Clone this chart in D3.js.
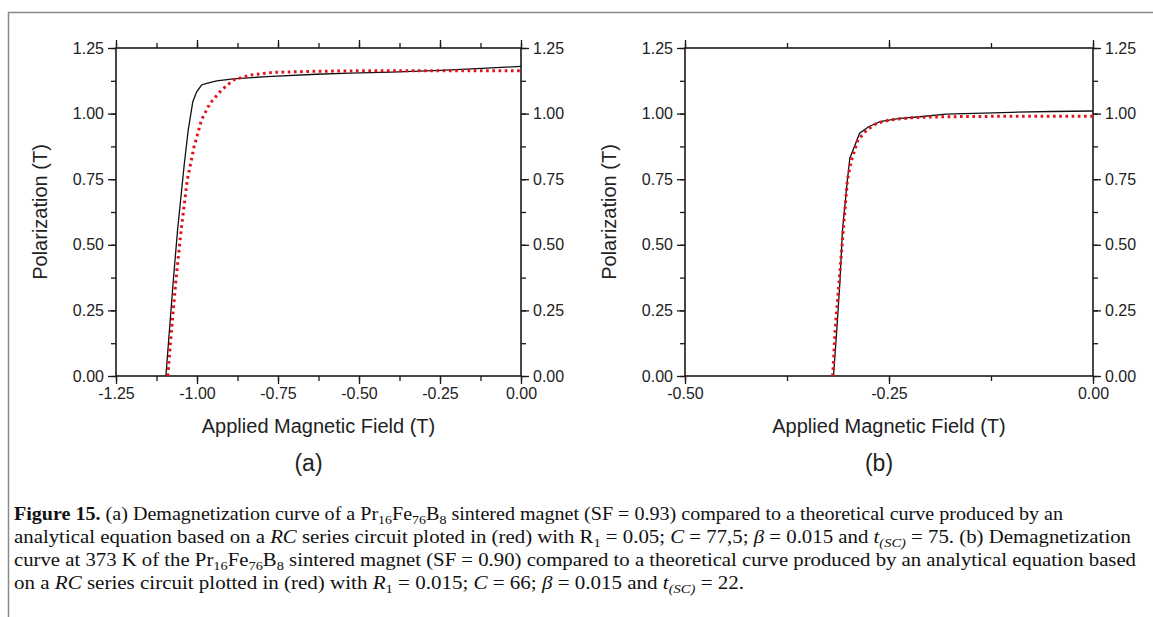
<!DOCTYPE html>
<html><head><meta charset="utf-8">
<script src="https://cdn.jsdelivr.net/npm/d3@7"></script>
<style>
html,body{margin:0;padding:0;background:#fff;}
svg{display:block;}
</style></head>
<body>
<svg id="chart" width="1153" height="617"></svg>
<script>
// ---- data ----
const fieldA_meas = [-1.096,-1.089,-1.073,-1.060,-1.039,-1.027,-1.013,-1.001,-0.986,-0.970,-0.939,-0.888,-0.785,-0.631,-0.528,-0.40,-0.25,-0.12,0.0];
const polA_meas   = [0.000,0.112,0.366,0.556,0.811,0.938,1.045,1.083,1.109,1.115,1.125,1.132,1.141,1.150,1.154,1.158,1.165,1.172,1.180];
const fieldA_fit  = [-1.090,-1.083,-1.065,-1.049,-1.030,-1.009,-0.986,-0.960,-0.924,-0.888,-0.836,-0.764,-0.65,-0.50,-0.30,-0.10,0.0];
const polA_fit    = [0.000,0.112,0.366,0.556,0.747,0.874,0.976,1.039,1.090,1.128,1.147,1.157,1.161,1.163,1.163,1.163,1.163];

const fieldB_meas = [-0.318,-0.314,-0.310,-0.307,-0.301,-0.298,-0.286,-0.275,-0.261,-0.237,-0.212,-0.18,-0.10,-0.05,0.0];
const polB_meas   = [0.000,0.175,0.366,0.556,0.747,0.830,0.925,0.950,0.969,0.982,0.988,0.998,1.005,1.008,1.010];
const fieldB_fit  = [-0.319,-0.316,-0.311,-0.306,-0.301,-0.296,-0.288,-0.277,-0.265,-0.249,-0.224,-0.20,-0.15,-0.10,0.0];
const polB_fit    = [0.000,0.175,0.366,0.556,0.747,0.823,0.900,0.938,0.963,0.976,0.984,0.987,0.989,0.990,0.990];

const yTicks = [0, 0.25, 0.5, 0.75, 1.0, 1.25];
const xTicksA = [-1.25, -1.0, -0.75, -0.5, -0.25, 0];
const xTicksB = [-0.5, -0.25, 0];
const xLabel = "Applied Magnetic Field (T)";
const yLabel = "Polarization (T)";

const captionLines = [
  [["Figure 15.","b"],[" (a) Demagnetization curve of a Pr",""],["16","sub"],["Fe",""],["76","sub"],["B",""],["8","sub"],[" sintered magnet (SF = 0.93) compared to a theoretical curve produced by an",""]],
  [["analytical equation based on a ",""],["RC","i"],[" series circuit ploted in (red) with R",""],["1","sub"],[" = 0.05; ",""],["C","i"],[" = 77,5; ",""],["β","i"],[" = 0.015 and ",""],["t","i"],["(SC)","subi"],[" = 75. (b) Demagnetization",""]],
  [["curve at 373 K of the Pr",""],["16","sub"],["Fe",""],["76","sub"],["B",""],["8","sub"],[" sintered magnet (SF = 0.90) compared to a theoretical curve produced by an analytical equation based",""]],
  [["on a ",""],["RC","i"],[" series circuit plotted in (red) with ",""],["R","i"],["1","sub"],[" = 0.015; ",""],["C","i"],[" = 66; ",""],["β","i"],[" = 0.015 and ",""],["t","i"],["(SC)","subi"],[" = 22.",""]]
];
const captionWidths = [1049, 1117, 1122, 730];

// ---- drawing ----
const svg = d3.select("#chart");
const axisColor = "#1a1a1a";
const sans = "'Liberation Sans', Arial, sans-serif";

// page frame lines
svg.append("line").attr("x1",8).attr("x2",1153).attr("y1",12.5).attr("y2",12.5).attr("stroke","#8a8a8a").attr("stroke-width",1.5);
svg.append("line").attr("x1",8.5).attr("x2",8.5).attr("y1",12).attr("y2",617).attr("stroke","#8a8a8a").attr("stroke-width",1.5);

const yTop = 48, yBot = 376;

function panel(cfg){
  const x = d3.scaleLinear().domain(cfg.xDomain).range([cfg.x0, cfg.x1]);
  const y = d3.scaleLinear().domain([0,1.25]).range([yBot, yTop]);
  const g = svg.append("g");
  const minorX = d3.range(cfg.xDomain[0], cfg.xDomain[1]+1e-9, 0.125);
  const minorY = d3.range(0, 1.25+1e-9, 0.125);
  const fmt = d => d3.format(".2f")(d).replace("\u2212","-");

  function styleAxis(sel){
    sel.select(".domain").remove();
    sel.selectAll("line").attr("stroke",axisColor).attr("stroke-width",1.3);
    sel.selectAll("text").attr("fill","#222").style("font-family",sans).style("font-size","16px");
  }
  // minor ticks (no labels)
  g.append("g").attr("transform",`translate(0,${yBot})`).call(d3.axisBottom(x).tickValues(minorX).tickSize(5).tickFormat("")).call(styleAxis);
  g.append("g").attr("transform",`translate(0,${yTop})`).call(d3.axisTop(x).tickValues(minorX).tickSize(5).tickFormat("")).call(styleAxis);
  g.append("g").attr("transform",`translate(${cfg.x0},0)`).call(d3.axisLeft(y).tickValues(minorY).tickSize(5).tickFormat("")).call(styleAxis);
  g.append("g").attr("transform",`translate(${cfg.x1},0)`).call(d3.axisRight(y).tickValues(minorY).tickSize(5).tickFormat("")).call(styleAxis);
  // major ticks
  g.append("g").attr("transform",`translate(0,${yBot})`).call(d3.axisBottom(x).tickValues(cfg.xTicks).tickSize(8).tickPadding(4).tickFormat(fmt)).call(styleAxis);
  g.append("g").attr("transform",`translate(0,${yTop})`).call(d3.axisTop(x).tickValues(cfg.xTicks).tickSize(8).tickFormat("")).call(styleAxis);
  g.append("g").attr("transform",`translate(${cfg.x0},0)`).call(d3.axisLeft(y).tickValues(yTicks).tickSize(8).tickPadding(4).tickFormat(fmt)).call(styleAxis);
  g.append("g").attr("transform",`translate(${cfg.x1},0)`).call(d3.axisRight(y).tickValues(yTicks).tickSize(8).tickPadding(4).tickFormat(fmt)).call(styleAxis);

  // frame
  g.append("rect").attr("x",cfg.x0).attr("y",yTop).attr("width",cfg.x1-cfg.x0).attr("height",yBot-yTop)
    .attr("fill","none").attr("stroke",axisColor).attr("stroke-width",1.6);

  const line = d3.line().x(d=>x(d[0])).y(d=>y(d[1]));
  const meas = cfg.fm.map((f,i)=>[f,cfg.pm[i]]);
  const fit = cfg.ff.map((f,i)=>[f,cfg.pf[i]]);
  g.append("path").datum(meas).attr("d",line).attr("fill","none").attr("stroke","#111").attr("stroke-width",1.3);
  g.append("path").datum(fit).attr("d",line).attr("fill","none").attr("stroke","#e3101a")
    .attr("stroke-width",3).attr("stroke-dasharray","2.6,3.6");

  // labels
  const cx = (cfg.x0+cfg.x1)/2;
  g.append("text").attr("x",cx).attr("y",433).attr("text-anchor","middle")
    .style("font-family",sans).style("font-size","20px").attr("fill","#222").text(xLabel);
  g.append("text").attr("transform",`translate(${cfg.x0-69},${(yTop+yBot)/2}) rotate(-90)`).attr("text-anchor","middle")
    .style("font-family",sans).style("font-size","20px").attr("fill","#222").text(yLabel);
  g.append("text").attr("x",cx-10).attr("y",471).attr("text-anchor","middle")
    .style("font-family",sans).style("font-size","23px").attr("fill","#222").text(cfg.tag);
}

panel({xDomain:[-1.25,0], x0:116, x1:521, xTicks:xTicksA, fm:fieldA_meas, pm:polA_meas, ff:fieldA_fit, pf:polA_fit, tag:"(a)"});
panel({xDomain:[-0.5,0], x0:685, x1:1093, xTicks:xTicksB, fm:fieldB_meas, pm:polB_meas, ff:fieldB_fit, pf:polB_fit, tag:"(b)"});

// caption
const serif = "'Liberation Serif', 'Times New Roman', serif";
const baseY = [520, 543, 566, 589];
captionLines.forEach((segs, li)=>{
  const t = svg.append("text").attr("x",14).attr("y",baseY[li])
    .style("font-family",serif).style("font-size","18px").attr("fill","#111");
  let shifted = false;
  segs.forEach(([txt, st])=>{
    const ts = t.append("tspan").text(txt);
    const isSub = st==="sub" || st==="subi";
    if (isSub && !shifted){ ts.attr("dy",4); shifted = true; }
    else if (!isSub && shifted){ ts.attr("dy",-4); shifted = false; }
    if (isSub) ts.style("font-size","12.5px");
    if (st==="b") ts.style("font-weight","bold");
    if (st==="i" || st==="subi") ts.style("font-style","italic");
  });
  t.attr("textLength",captionWidths[li]).attr("lengthAdjust","spacingAndGlyphs");
});
</script>
</body></html>
